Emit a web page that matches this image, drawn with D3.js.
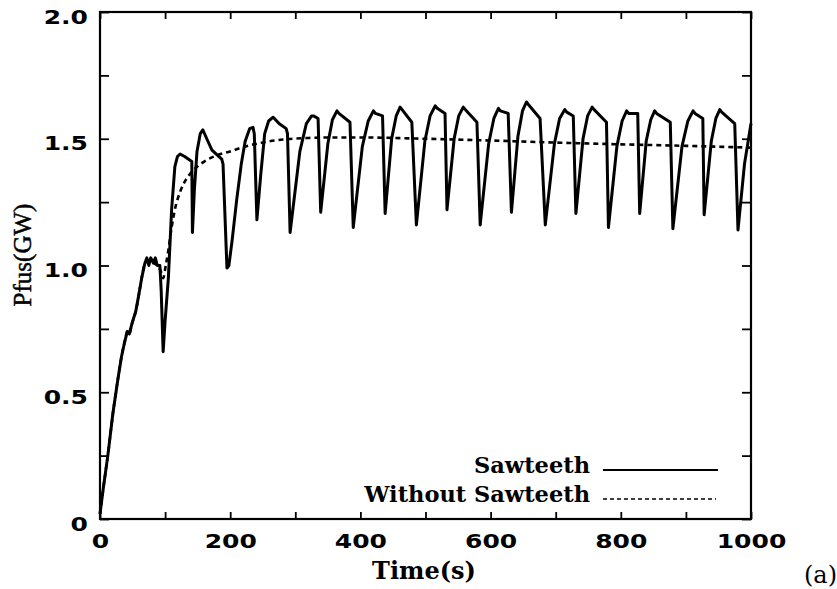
<!DOCTYPE html>
<html>
<head>
<meta charset="utf-8">
<script src="https://cdn.jsdelivr.net/npm/d3@7"></script>
<style>
  html, body { margin: 0; padding: 0; background: #fff; }
  svg { display: block; }
</style>
</head>
<body>
<svg id="chart" width="837" height="589"></svg>
<script>
// ---- data ----
const seriesNames = ["Sawteeth", "Without Sawteeth"];

// time (s) of the "Sawteeth" series
const sawTime = [0, 5, 12, 20, 28, 33, 38, 42, 45, 49, 55, 60, 64, 69, 72, 75, 78, 82, 85, 88, 92, 94, 97,
  100, 105, 110, 115, 119, 123, 130, 141, 142, 145, 149, 154, 158, 164, 172, 187, 189, 195,
  198, 203, 210, 217, 223, 230, 235, 237, 241,
  247, 253, 259, 266, 275, 286, 288, 292,
  307, 317, 325, 328, 335, 339,
  350, 357, 364, 367, 384, 389,
  403, 412, 420, 423, 434, 438,
  448, 455, 461, 464, 479, 486,
  499, 507, 515, 518, 530, 533,
  544, 551, 558, 561, 579, 584,
  597, 605, 612, 615, 627, 632,
  642, 649, 655, 658, 676, 684,
  698, 706, 714, 717, 727, 731,
  742, 749, 756, 759, 778, 781,
  794, 802, 809, 812, 826, 829,
  839, 846, 852, 855, 876, 880,
  894, 903, 911, 914, 926, 928,
  939, 946, 952, 955, 975, 980,
  990, 1000];
// fusion power (GW) of the "Sawteeth" series
const sawPower = [0.02, 0.12, 0.25, 0.42, 0.56, 0.64, 0.70, 0.74, 0.73, 0.77, 0.82, 0.89, 0.95, 1.01, 1.03, 1.00, 1.03, 1.01, 1.03, 1.00, 1.00, 0.90, 0.66,
  0.78, 0.95, 1.22, 1.39, 1.43, 1.44, 1.43, 1.41, 1.13, 1.30, 1.45, 1.52, 1.535, 1.50, 1.455, 1.42, 1.40, 0.99,
  1.00, 1.10, 1.26, 1.40, 1.49, 1.54, 1.545, 1.52, 1.18,
  1.36, 1.52, 1.57, 1.585, 1.56, 1.54, 1.52, 1.13,
  1.45, 1.56, 1.59, 1.59, 1.58, 1.21,
  1.48, 1.575, 1.61, 1.60, 1.565, 1.15,
  1.47, 1.57, 1.61, 1.60, 1.59, 1.205,
  1.50, 1.59, 1.625, 1.615, 1.565, 1.16,
  1.49, 1.59, 1.63, 1.62, 1.60, 1.22,
  1.50, 1.59, 1.625, 1.615, 1.565, 1.16,
  1.48, 1.58, 1.62, 1.61, 1.60, 1.21,
  1.51, 1.61, 1.645, 1.635, 1.58, 1.16,
  1.48, 1.58, 1.615, 1.605, 1.59, 1.205,
  1.50, 1.59, 1.625, 1.615, 1.565, 1.15,
  1.47, 1.57, 1.61, 1.60, 1.60, 1.205,
  1.49, 1.575, 1.61, 1.60, 1.565, 1.145,
  1.47, 1.57, 1.61, 1.60, 1.58, 1.20,
  1.49, 1.58, 1.615, 1.605, 1.56, 1.14,
  1.40, 1.56];

// time (s) of the "Without Sawteeth" series
const noSawTime = [0, 5, 12, 20, 28, 33, 38, 42, 45, 49, 55, 60, 64, 69, 75, 82, 88, 93, 97,
  101, 105, 110, 115, 123, 128, 135, 143, 160, 180, 200, 220, 250, 281, 320, 360, 400,
  500, 600, 700, 800, 900, 1000];
// fusion power (GW) of the "Without Sawteeth" series
const noSawPower = [0.02, 0.12, 0.25, 0.42, 0.56, 0.64, 0.70, 0.74, 0.73, 0.77, 0.82, 0.89, 0.95, 1.01, 1.02, 1.01, 1.00, 0.98, 0.95,
  1.00, 1.06, 1.15, 1.22, 1.29, 1.32, 1.35, 1.375, 1.41, 1.435, 1.45, 1.467, 1.485, 1.497, 1.503, 1.505, 1.505,
  1.50, 1.493, 1.485, 1.478, 1.472, 1.465];

// axis ticks and labels
const xTickValues = [0, 100, 200, 300, 400, 500, 600, 700, 800, 900, 1000];
const xTickLabels = ["0", "200", "400", "600", "800", "1000"];
const yTickValues = [0, 0.25, 0.5, 0.75, 1.0, 1.25, 1.5, 1.75, 2.0];
const yTickLabels = ["0", "0.5", "1.0", "1.5", "2.0"];
const xTitle = "Time(s)";
const yTitle = "Pfus(GW)";
const panelTag = "(a)";

// ---- drawing ----
const svg = d3.select("#chart");
const x = d3.scaleLinear().domain([0, 1000]).range([100, 751]);
const y = d3.scaleLinear().domain([0, 2]).range([519, 12]);

const tickFont = "'DejaVu Sans', sans-serif";
const serif = "'DejaVu Serif', serif";

function xFmt(d) { const s = String(d); return xTickLabels.includes(s) ? s : ""; }
function yFmt(d) {
  const s = d === 0 ? "0" : d.toFixed(1);
  return (Math.abs(d * 2 - Math.round(d * 2)) < 1e-9 && yTickLabels.includes(s)) ? s : "";
}

// bottom axis (ticks inward, labels below)
const gx = svg.append("g").attr("transform", `translate(0,${y(0)})`)
  .call(d3.axisBottom(x).tickValues(xTickValues).tickSize(-7).tickFormat(xFmt));
gx.select(".domain").remove();
gx.selectAll(".tick line").attr("stroke", "#000").attr("stroke-width", 1.8);
gx.selectAll(".tick text")
  .attr("y", 29).attr("dy", 0)
  .attr("transform", "scale(1.25,1)")
  .style("font-family", tickFont).style("font-weight", "bold").style("font-size", "20px")
  .attr("fill", "#000");

// top axis (ticks only)
const gxt = svg.append("g").attr("transform", `translate(0,${y(2)})`)
  .call(d3.axisTop(x).tickValues(xTickValues).tickSize(-7).tickFormat(""));
gxt.select(".domain").remove();
gxt.selectAll(".tick line").attr("stroke", "#000").attr("stroke-width", 1.8);

// left axis
const gy = svg.append("g").attr("transform", `translate(${x(0)},0)`)
  .call(d3.axisLeft(y).tickValues(yTickValues).tickSize(-9).tickFormat(yFmt));
gy.select(".domain").remove();
gy.selectAll(".tick line").attr("stroke", "#000").attr("stroke-width", 1.8);
gy.selectAll(".tick text")
  .attr("x", -9.6).attr("dy", 0).attr("y", 11)
  .attr("transform", "scale(1.25,1)")
  .style("font-family", tickFont).style("font-weight", "bold").style("font-size", "20px")
  .attr("fill", "#000");

// right axis (ticks only)
const gyr = svg.append("g").attr("transform", `translate(${x(1000)},0)`)
  .call(d3.axisRight(y).tickValues(yTickValues).tickSize(-9).tickFormat(""));
gyr.select(".domain").remove();
gyr.selectAll(".tick line").attr("stroke", "#000").attr("stroke-width", 1.8);

// frame
svg.append("rect")
  .attr("x", x(0)).attr("y", y(2))
  .attr("width", x(1000) - x(0)).attr("height", y(0) - y(2))
  .attr("fill", "none").attr("stroke", "#000").attr("stroke-width", 2.2);

// lines
const sawData = sawTime.map((t, i) => [t, sawPower[i]]);
const noSawData = noSawTime.map((t, i) => [t, noSawPower[i]]);

const lineSolid = d3.line().x(d => x(d[0])).y(d => y(d[1])).curve(d3.curveLinear);
const lineDash = d3.line().x(d => x(d[0])).y(d => y(d[1])).curve(d3.curveMonotoneX);

svg.append("path").datum(noSawData)
  .attr("d", lineDash).attr("fill", "none").attr("stroke", "#000")
  .attr("stroke-width", 2.6).attr("stroke-dasharray", "5,4");

svg.append("path").datum(sawData)
  .attr("d", lineSolid).attr("fill", "none").attr("stroke", "#000")
  .attr("stroke-width", 3).attr("stroke-linejoin", "round");

// legend
const legend = svg.append("g");
const legY = [473, 502];
seriesNames.forEach((name, i) => {
  legend.append("text")
    .attr("x", 590).attr("y", legY[i])
    .attr("text-anchor", "end")
    .style("font-family", serif).style("font-weight", "bold").style("font-size", "22.5px")
    .attr("fill", "#000")
    .text(name);
  legend.append("line")
    .attr("x1", 603).attr("x2", i === 0 ? 718 : 716)
    .attr("y1", legY[i] - 3).attr("y2", legY[i] - 3)
    .attr("stroke", "#000")
    .attr("stroke-width", i === 0 ? 2 : 1.5)
    .attr("stroke-dasharray", i === 0 ? null : "4,3");
});

// axis titles
svg.append("text")
  .attr("x", 424).attr("y", 579).attr("text-anchor", "middle")
  .style("font-family", serif).style("font-weight", "bold").style("font-size", "24px")
  .attr("fill", "#000").text(xTitle);

svg.append("text")
  .attr("transform", "translate(31,255) rotate(-90)")
  .attr("text-anchor", "middle")
  .style("font-family", "'Liberation Serif', serif").style("font-size", "25px")
  .attr("fill", "#000").attr("stroke", "#000").attr("stroke-width", 0.5)
  .text(yTitle);

svg.append("text")
  .attr("x", 804).attr("y", 583)
  .style("font-family", serif).style("font-size", "24px")
  .attr("fill", "#000").text(panelTag);
</script>
</body>
</html>
